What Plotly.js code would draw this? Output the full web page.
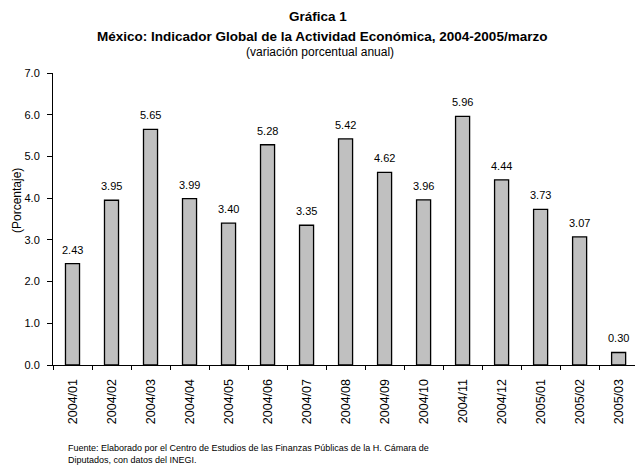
<!DOCTYPE html>
<html><head><meta charset="utf-8">
<script src="https://cdn.plot.ly/plotly-3.0.1.min.js"></script>
<style>body{margin:0;background:#fff}#c{width:635px;height:468px}</style>
</head><body><div id="c"></div>
<script>
var categories = ["2004/01","2004/02","2004/03","2004/04","2004/05","2004/06","2004/07","2004/08","2004/09","2004/10","2004/11","2004/12","2005/01","2005/02","2005/03"];
var values = [2.43,3.95,5.65,3.99,3.40,5.28,3.35,5.42,4.62,3.96,5.96,4.44,3.73,3.07,0.30];
var yTicks = [0,1,2,3,4,5,6,7];
var F = "Liberation Sans, Arial, sans-serif";
var PW = 582, PH = 292, L = 53, T = 73;

var trace = {
  type: "bar", x: categories, y: values,
  marker: {color: "#c0c0c0", line: {color: "#000", width: 1.3}},
  hoverinfo: "none"
};
var labelAnn = categories.map(function (c, i) {
  return {x: c, y: values[i], xref: "x", yref: "y", text: values[i].toFixed(2),
    showarrow: false, yanchor: "bottom", xanchor: "center", yshift: 6,
    font: {family: F, size: 11, color: "#000"}};
});
var px = function (x) { return (x - L) / PW; };
var py = function (y) { return (T + PH - y) / PH; };
var layout = {
  width: 635, height: 468,
  margin: {l: L, r: 635 - L - PW, t: T, b: 468 - T - PH, pad: 0},
  paper_bgcolor: "#fff", plot_bgcolor: "#fff",
  bargap: 0.64, showlegend: false,
  font: {family: F, color: "#000"},
  xaxis: {
    type: "category", range: [-0.5, 14.42],
    showline: true, linecolor: "#000", linewidth: 1,
    ticks: "outside", ticklen: 4, tickcolor: "#000", tickson: "boundaries",
    tickangle: -90, tickfont: {family: F, size: 12.5, color: "#000"}, ticklabelstandoff: 8,
    showgrid: false, zeroline: false, fixedrange: true
  },
  yaxis: {
    range: [0, 7], tickvals: yTicks, tickformat: ".1f",
    showline: true, linecolor: "#000", linewidth: 1,
    ticks: "outside", ticklen: 5, tickcolor: "#000", ticklabelstandoff: 5,
    tickfont: {family: F, size: 11, color: "#000"},
    showgrid: false, zeroline: false
  },
  annotations: labelAnn.concat([
    {text: "<b>Gráfica 1</b>", xref: "paper", yref: "paper", x: px(318), xanchor: "center", y: py(16), yanchor: "middle", showarrow: false, font: {family: F, size: 13.5, color: "#000"}},
    {text: "<b>México: Indicador Global de la Actividad Económica, 2004-2005/marzo</b>", xref: "paper", yref: "paper", x: px(322), xanchor: "center", y: py(36), yanchor: "middle", showarrow: false, font: {family: F, size: 13.5, color: "#000"}},
    {text: "(variación porcentual anual)", xref: "paper", yref: "paper", x: px(320), xanchor: "center", y: py(52), yanchor: "middle", showarrow: false, font: {family: F, size: 12, color: "#000"}},
    {text: "(Porcentaje)", xref: "paper", yref: "paper", x: px(17), xanchor: "center", y: py(201), yanchor: "middle", textangle: -90, showarrow: false, font: {family: F, size: 12, color: "#000"}},
    {text: "Fuente: Elaborado por el Centro de Estudios de las Finanzas Públicas de la H. Cámara de<br>Diputados, con datos del INEGI.", xref: "paper", yref: "paper", x: px(66), xanchor: "left", align: "left", y: py(454), yanchor: "middle", showarrow: false, font: {family: F, size: 9, color: "#000"}}
  ])
};
Plotly.newPlot("c", [trace], layout, {displayModeBar: false, staticPlot: true});
</script></body></html>
